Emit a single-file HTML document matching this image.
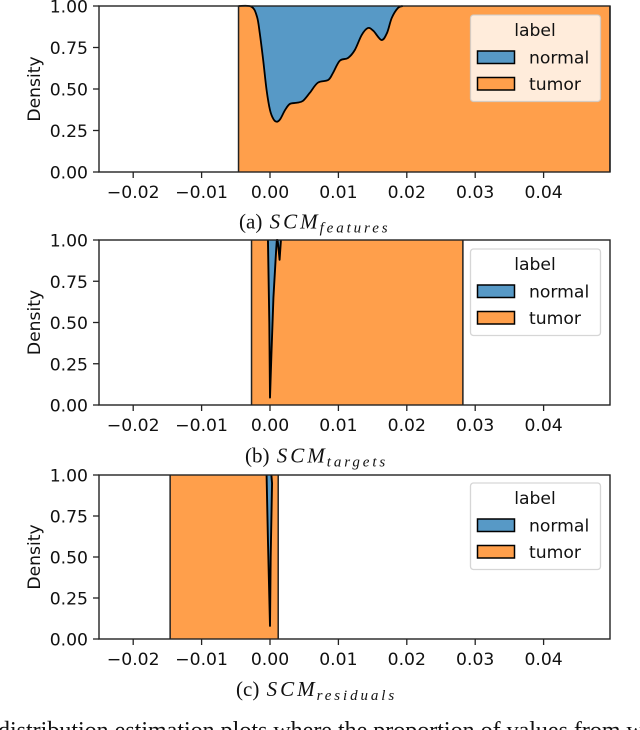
<!DOCTYPE html>
<html>
<head>
<meta charset="utf-8">
<style>
html,body{margin:0;padding:0;background:#fff;width:640px;height:730px;overflow:hidden}
svg{display:block}
.tick{font-family:"DejaVu Sans","Liberation Sans",sans-serif;font-size:17.2px;fill:#111}
.cap{font-family:"Liberation Serif",serif;font-size:21px;fill:#111}
.foot{font-family:"Liberation Serif",serif;font-size:24px;fill:#111}
.m{font-style:italic}
</style>
</head>
<body>
<svg id="fig" width="640" height="730" viewBox="0 0 640 730" xmlns="http://www.w3.org/2000/svg"></svg>
<script>
// x tick and y tick labels
var xTicks = [-0.02, -0.01, 0, 0.01, 0.02, 0.03, 0.04];
var yTicks = [0, 0.25, 0.5, 0.75, 1];
var legendLabels = ['normal', 'tumor'];

// Panel (a): proportion of "normal" by value
var xA = [-0.0046,-0.0027,-0.0019,-0.0015,-0.0010,-0.0005,0,0.0005,0.0010,0.0015,0.0022,0.0029,0.0039,0.0048,0.0058,0.0070,0.0085,0.0092,0.0102,0.0114,0.0124,0.0134,0.0143,0.0151,0.0163,0.0171,0.0178,0.0187,0.0194,0.0497];
var normalA = [0,0.004,0.065,0.163,0.325,0.506,0.627,0.681,0.697,0.681,0.627,0.590,0.583,0.572,0.524,0.462,0.446,0.404,0.330,0.313,0.265,0.175,0.133,0.149,0.205,0.163,0.072,0.012,0,0];

// Panel (b)
var xB = [-0.0027,-0.0003,-0.0001,0.0000,0.0002,0.0005,0.0009,0.0010,0.0011,0.0012,0.0014,0.0016,0.0282];
var normalB = [0,0,0.5,0.955,0.70,0.35,0.06,0,0,0.03,0.12,0,0];

// Panel (c)
var xC = [-0.0146,-0.0005,-0.0003,0.0000,0.0001,0.0003,0.0002,0.0012];
var normalC = [0,0,0.4,0.92,0.5,0.05,0,0];

var panels = [
  {id:'a', top:6,   bottom:172, xs:xA, ys:normalA, smooth:true,  edge:1.8, sub:'features',  capX:239, capY:228.5, legendTop:15},
  {id:'b', top:240, bottom:405, xs:xB, ys:normalB, smooth:false, edge:1.9, sub:'targets',   capX:245, capY:462.5, legendTop:249},
  {id:'c', top:475, bottom:639, xs:xC, ys:normalC, smooth:false, edge:1.9, sub:'residuals', capX:236, capY:696, legendTop:483}
];

var left = 99, right = 610;
var svg = document.getElementById('fig');
var NS = 'http://www.w3.org/2000/svg';
var BLUE = '#5799c6', ORANGE = '#ff9f4b';

function mk(tag, attrs, parent){
  var e = document.createElementNS(NS, tag);
  for (var k in attrs) e.setAttribute(k, attrs[k]);
  (parent || svg).appendChild(e);
  return e;
}
function xPx(v){ return 270 + v * 6840; }
function fmtX(v){ return (v < 0 ? '\u2212' : '') + Math.abs(v).toFixed(2); }

// Builds a path segment through the screen points, optionally with smooth joins
function curve(pts, smooth){
  var d = 'L' + pts[0][0].toFixed(2) + ' ' + pts[0][1].toFixed(2);
  for (var i = 0; i < pts.length - 1; i++) {
    var p1 = pts[i], p2 = pts[i + 1];
    if (!smooth) { d += 'L' + p2[0].toFixed(2) + ' ' + p2[1].toFixed(2); continue; }
    var p0 = pts[i - 1] || p1, p3 = pts[i + 2] || p2;
    var c1x = p1[0] + (p2[0] - p0[0]) / 6, c1y = p1[1] + (p2[1] - p0[1]) / 6;
    var c2x = p2[0] - (p3[0] - p1[0]) / 6, c2y = p2[1] - (p3[1] - p1[1]) / 6;
    if (p3[0] - p2[0] > 40) { c2x = p2[0] - (p2[0] - p1[0]) / 3; c2y = p2[1]; }
    d += 'C' + c1x.toFixed(2) + ' ' + c1y.toFixed(2) + ' ' + c2x.toFixed(2) + ' ' + c2y.toFixed(2) + ' ' + p2[0].toFixed(2) + ' ' + p2[1].toFixed(2);
  }
  return d;
}

panels.forEach(function(p){
  var H = p.bottom - p.top;
  function yPx(f){ return p.bottom - f * H; }

  var g = mk('g', {});
  
  

  var n = p.xs.length;
  var x0 = Math.min.apply(null, p.xs), x1 = Math.max.apply(null, p.xs);

  var tumor = mk('rect', {x:xPx(x0), y:p.top, width:Math.min(xPx(x1), right) - xPx(x0), height:H, fill:ORANGE}, g);
  
  

  var pts = [];
  var first = n, last = 0;
  for (var i = 0; i < n; i++) {
    pts.push([xPx(p.xs[i]), yPx(1 - p.ys[i])]);
    if (p.ys[i] > 0) { first = Math.min(first, i); last = i; }
  }
  var body = curve(pts, p.smooth);

  var normal = mk('path', {d:'M' + xPx(x0) + ' ' + p.top + body + 'L' + xPx(x1) + ' ' + p.top + 'Z', fill:BLUE}, g);
  
  

  // The boundary line is only stroked where the normal share is above zero
  var edgeBody = curve(pts.slice(Math.max(first - 1, 0), last + 2), p.smooth);
  var edge = mk('path', {d:'M' + edgeBody.slice(1), fill:'none', stroke:'#000', 'stroke-width':p.edge, 'stroke-linejoin':'round'}, g);
  
  

  var le = mk('line', {x1:xPx(x0), x2:xPx(x0), y1:p.top, y2:p.bottom, stroke:'#222', 'stroke-width':1.5}, g);
  
  
  if (xPx(x1) < right) {
    var re = mk('line', {x1:xPx(x1), x2:xPx(x1), y1:p.top, y2:p.bottom, stroke:'#222', 'stroke-width':1.5}, g);
    
    
  }

  var frame = mk('rect', {x:left, y:p.top, width:right - left, height:H, fill:'none', stroke:'#222', 'stroke-width':1.4}, g);
  
  

  xTicks.forEach(function(v){
    var t = mk('line', {x1:xPx(v), x2:xPx(v), y1:p.bottom, y2:p.bottom + 6, stroke:'#222', 'stroke-width':1.3}, g);
    
    
    var l = mk('text', {x:xPx(v), y:p.bottom + 26, 'text-anchor':'middle', 'class':'tick'}, g);
    l.textContent = fmtX(v);
    
    
  });
  yTicks.forEach(function(v){
    var t = mk('line', {x1:left - 6, x2:left, y1:yPx(v), y2:yPx(v), stroke:'#222', 'stroke-width':1.3}, g);
    
    
    var l = mk('text', {x:left - 11, y:yPx(v) + 6.5, 'text-anchor':'end', 'class':'tick'}, g);
    l.textContent = v.toFixed(2);
    
    
  });

  var cy = (p.top + p.bottom) / 2;
  var yt = mk('text', {x:0, y:0, transform:'translate(40,' + cy + ') rotate(-90)', 'text-anchor':'middle', 'class':'tick'}, g);
  yt.textContent = 'Density';
  
  

  // legend
  var T = p.legendTop;
  var lg = mk('g', {}, g);
  
  
  mk('rect', {x:470.5, y:T, width:130, height:86.5, rx:3, fill:'#fff', 'fill-opacity':0.8, stroke:'#ccc', 'stroke-opacity':0.8, 'stroke-width':1.3}, lg);
  var lt = mk('text', {x:535, y:T + 21, 'text-anchor':'middle', 'class':'tick'}, lg);
  lt.textContent = 'label';
  
  
  legendLabels.forEach(function(name, i){
    var yy = T + 36 + i * 26.5;
    var sw = mk('rect', {x:477.5, y:yy, width:37, height:12.5, fill:i === 0 ? BLUE : ORANGE, stroke:'#000', 'stroke-width':1.5}, lg);
    
    
    var tx = mk('text', {x:529, y:yy + 12.5, 'class':'tick'}, lg);
    tx.textContent = name;
    
    
  });

  // caption
  var c = mk('text', {x:p.capX, y:p.capY, 'class':'cap'}, g);
  
  
  var s1 = mk('tspan', {}, c); s1.textContent = '(' + p.id + ') ';
  var s2 = mk('tspan', {'class':'m', dx:2, 'letter-spacing':'3px'}, c); s2.textContent = 'SCM';
  var s3 = mk('tspan', {'class':'m', dx:-1, dy:4, 'font-size':'15px', 'letter-spacing':'2.9px'}, c); s3.textContent = p.sub;
});

var foot = mk('text', {x:-2, y:738, 'class':'foot'});
foot.textContent = 'distribution estimation plots where the proportion of values from w';


</script>
</body>
</html>
